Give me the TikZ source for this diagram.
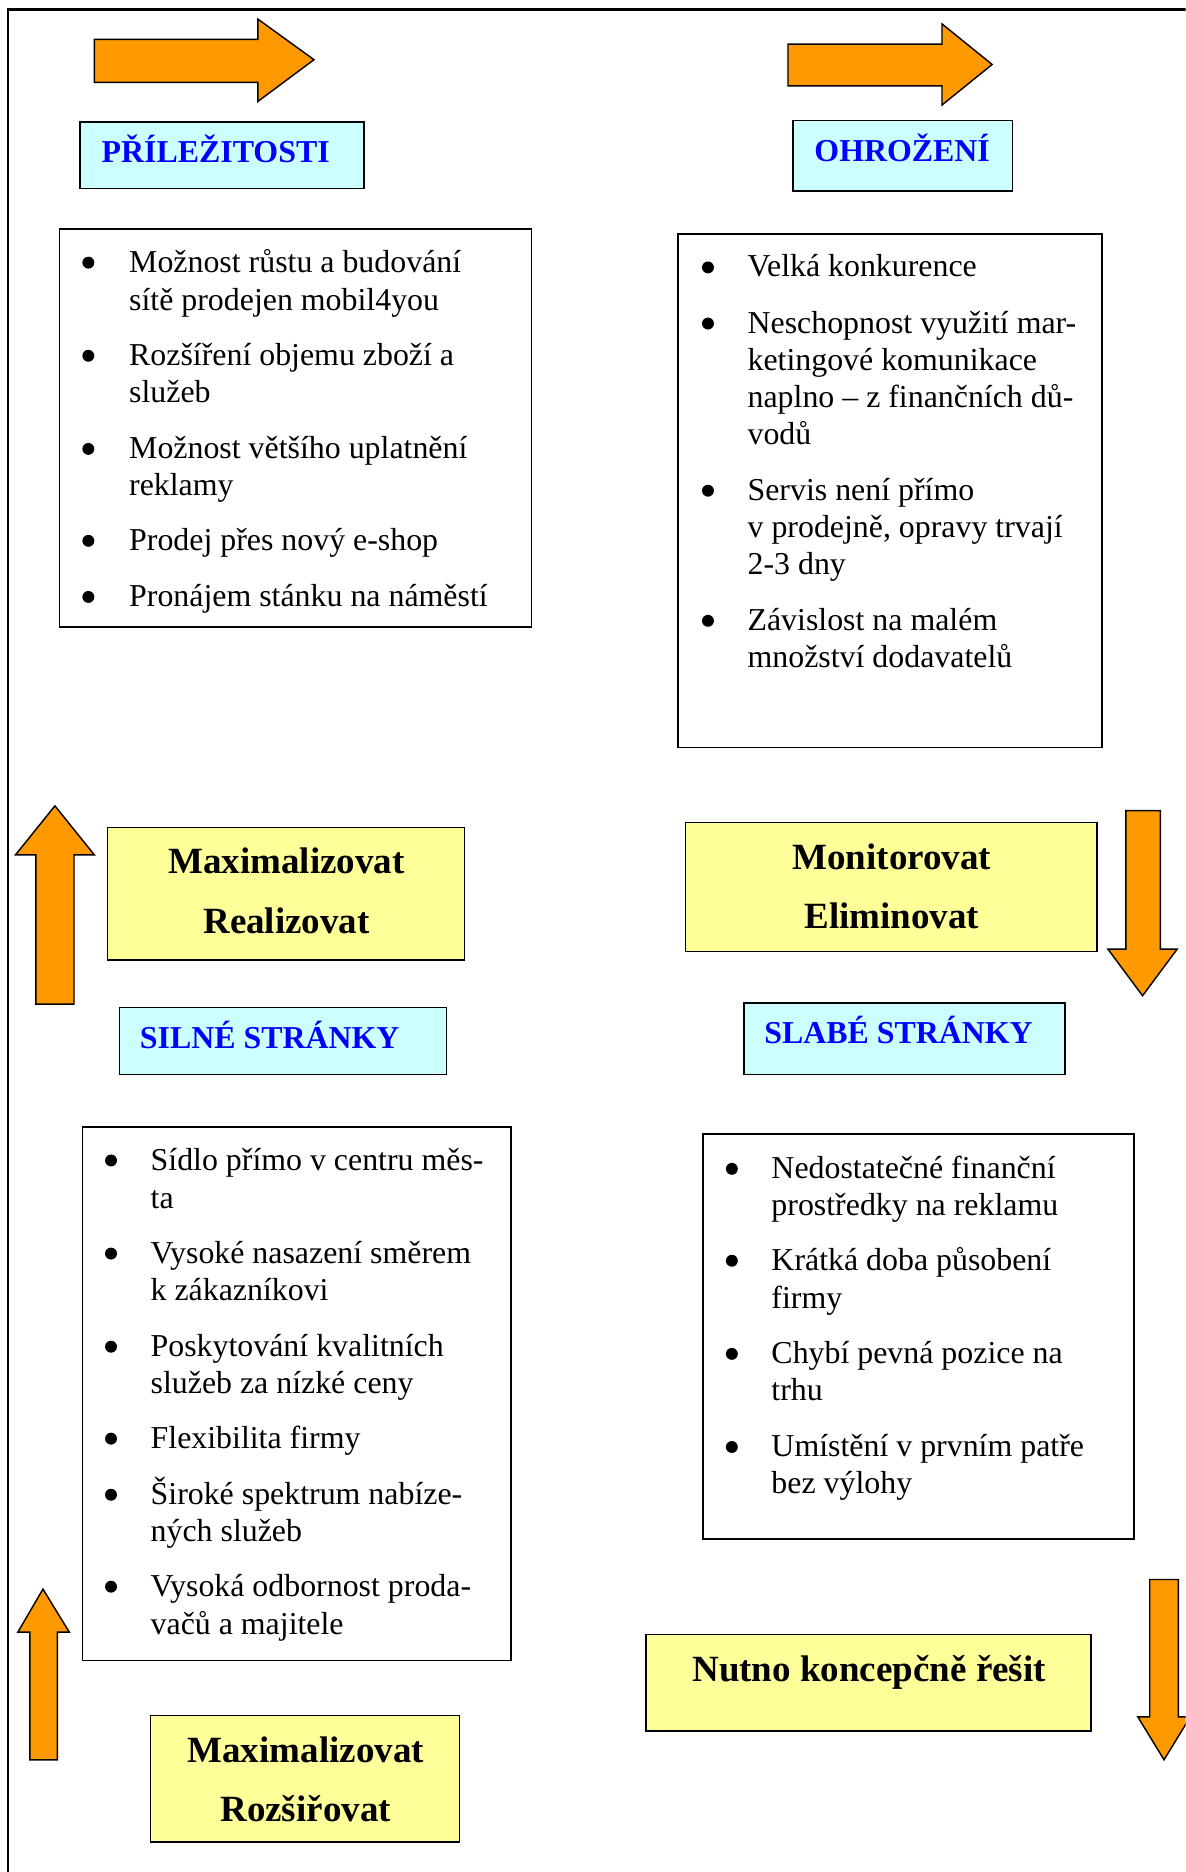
\documentclass[tikz,border=0pt]{standalone}
\usepackage{fontspec}
\setmainfont{Liberation Serif}
\definecolor{arroworange}{HTML}{FF9900}
\definecolor{headcyan}{HTML}{CCFFFF}
\definecolor{actyellow}{HTML}{FFFF99}
\definecolor{headblue}{HTML}{0000FF}
\begin{document}
\begin{tikzpicture}[x=1pt,y=-1pt,
  framebox/.style={draw=black,line width=1.3pt,inner sep=0pt,minimum width=#1},
  headbox/.style={framebox=#1,fill=headcyan},
  actbox/.style={framebox=#1,fill=actyellow},
  listbox/.style={framebox=#1,fill=white},
  bigarrow/.style={draw=black,line width=1.2pt,fill=arroworange,line join=miter},
  body/.style={font=\fontsize{26.7}{31.3}\selectfont,inner sep=0pt,anchor=base west},
  bul/.style={circle,fill=black,inner sep=0pt,minimum size=10pt},
  headtext/.style={font=\fontsize{26.7}{31.3}\selectfont\bfseries,text=headblue,inner sep=0pt,anchor=base west},
  acttext/.style={font=\fontsize{31}{36}\selectfont\bfseries,inner sep=0pt,anchor=base}]
\useasboundingbox (0,0) rectangle (993,1568);
\begin{scope}
\clip (0,0) rectangle (993,1568);
% page frame
\draw[line width=1.8pt] (7,1570) -- (7,8) -- (995,8);

% arrows
\draw[bigarrow] (79,33) -- (216,33) -- (216,16) -- (263,50) -- (216,85) -- (216,69) -- (79,69) -- cycle;
\draw[bigarrow] (660,37) -- (789,37) -- (789,20) -- (831,54) -- (789,88) -- (789,72) -- (660,72) -- cycle;
\draw[bigarrow] (30,841) -- (30,716) -- (13,716) -- (46,675) -- (79,716) -- (62,716) -- (62,841) -- cycle;
\draw[bigarrow] (943,679) -- (972,679) -- (972,795) -- (986,795) -- (957,834) -- (928,795) -- (943,795) -- cycle;
\draw[bigarrow] (25,1474) -- (25,1367) -- (15,1367) -- (36,1331) -- (58,1367) -- (48,1367) -- (48,1474) -- cycle;
\draw[bigarrow] (963,1323) -- (987,1323) -- (987,1438) -- (997,1438) -- (975,1474) -- (953,1438) -- (963,1438) -- cycle;
\end{scope}

% heading boxes
\node[headbox=238pt,minimum height=56pt] (pbox) at (186,130) {};
\node[headtext] (ptxt) at (85,136) {PŘÍLEŽITOSTI};
\node[headbox=184pt,minimum height=59pt] (tbox) at (756,130.5) {};
\node[headtext] (ttxt) at (682,135) {OHROŽENÍ};
\node[headbox=274pt,minimum height=56pt] (sbox) at (237,872) {};
\node[headtext] (stxt) at (117,878) {SILNÉ STRÁNKY};
\node[headbox=269pt,minimum height=60pt] (wbox) at (757.5,870) {};
\node[headtext] (wtxt) at (640,874) {SLABÉ STRÁNKY};

% opportunities list
\node[listbox=395pt,minimum height=333pt] (olist) at (247.5,358.5) {};
\foreach \yy/\nm in {228/ob1,306/ob2,384/ob3,461/ob4,508/ob5} \node[bul] (\nm) at (74,\yy-8) {};
\node[body] (o1a) at (108,228) {Možnost růstu a budování};
\node[body] (o1b) at (108,260) {sítě prodejen mobil4you};
\node[body] (o2a) at (108,306) {Rozšíření objemu zboží a};
\node[body] (o2b) at (108,337) {služeb};
\node[body] (o3a) at (108,384) {Možnost většího uplatnění};
\node[body] (o3b) at (108,415) {reklamy};
\node[body] (o4a) at (108,461) {Prodej přes nový e-shop};
\node[body] (o5a) at (108,508) {Pronájem stánku na náměstí};

% threats list
\node[listbox=355pt,minimum height=430pt] (tlist) at (745.5,411) {};
\foreach \yy/\nm in {232/tb1,279/tb2,419/tb3,528/tb4} \node[bul] (\nm) at (593,\yy-8) {};
\node[body] (t1a) at (626,232) {Velká konkurence};
\node[body] (t2a) at (626,279) {Neschopnost využití mar-};
\node[body] (t2b) at (626,310) {ketingové komunikace};
\node[body] (t2c) at (626,341) {naplno – z finančních dů-};
\node[body] (t2d) at (626,372) {vodů};
\node[body] (t3a) at (626,419) {Servis není přímo};
\node[body] (t3b) at (626,450) {v prodejně, opravy trvají};
\node[body] (t3c) at (626,481) {2-3 dny};
\node[body] (t4a) at (626,528) {Závislost na malém};
\node[body] (t4b) at (626,559) {množství dodavatelů};

% action boxes
\node[actbox=299pt,minimum height=111pt] (mrbox) at (239.5,748.5) {};
\node[acttext] (mr1) at (240,732) {Maximalizovat};
\node[acttext] (mr2) at (240,782) {Realizovat};
\node[actbox=345pt,minimum height=108pt] (mebox) at (746.5,743) {};
\node[acttext] (me1) at (747,728) {Monitorovat};
\node[acttext] (me2) at (747,778) {Eliminovat};

% strengths list
\node[listbox=359pt,minimum height=447pt] (slist) at (248.5,1167.5) {};
\foreach \yy/\nm in {980/sb1,1058/sb2,1136/sb3,1213/sb4,1260/sb5,1337/sb6} \node[bul] (\nm) at (93,\yy-8) {};
\node[body] (s1a) at (126,980) {Sídlo přímo v centru měs-};
\node[body] (s1b) at (126,1012) {ta};
\node[body] (s2a) at (126,1058) {Vysoké nasazení směrem};
\node[body] (s2b) at (126,1089) {k zákazníkovi};
\node[body] (s3a) at (126,1136) {Poskytování kvalitních};
\node[body] (s3b) at (126,1167) {služeb za nízké ceny};
\node[body] (s4a) at (126,1213) {Flexibilita firmy};
\node[body] (s5a) at (126,1260) {Široké spektrum nabíze-};
\node[body] (s5b) at (126,1291) {ných služeb};
\node[body] (s6a) at (126,1337) {Vysoká odbornost proda-};
\node[body] (s6b) at (126,1369) {vačů a majitele};

% weaknesses list
\node[listbox=361pt,minimum height=339pt] (wlist) at (769.5,1119.5) {};
\foreach \yy/\nm in {987/wb1,1064/wb2,1142/wb3,1220/wb4} \node[bul] (\nm) at (613,\yy-8) {};
\node[body] (w1a) at (646,987) {Nedostatečné finanční};
\node[body] (w1b) at (646,1018) {prostředky na reklamu};
\node[body] (w2a) at (646,1064) {Krátká doba působení};
\node[body] (w2b) at (646,1096) {firmy};
\node[body] (w3a) at (646,1142) {Chybí pevná pozice na};
\node[body] (w3b) at (646,1173) {trhu};
\node[body] (w4a) at (646,1220) {Umístění v prvním patře};
\node[body] (w4b) at (646,1251) {bez výlohy};

% bottom action boxes
\node[actbox=259pt,minimum height=106pt] (mzbox) at (255.5,1490) {};
\node[acttext] (mz1) at (256,1476) {Maximalizovat};
\node[acttext] (mz2) at (256,1526) {Rozšiřovat};
\node[actbox=373pt,minimum height=81pt] (nbox) at (727.5,1409.5) {};
\node[acttext] (n1) at (728,1408) {Nutno koncepčně řešit};
\end{tikzpicture}
\end{document}
